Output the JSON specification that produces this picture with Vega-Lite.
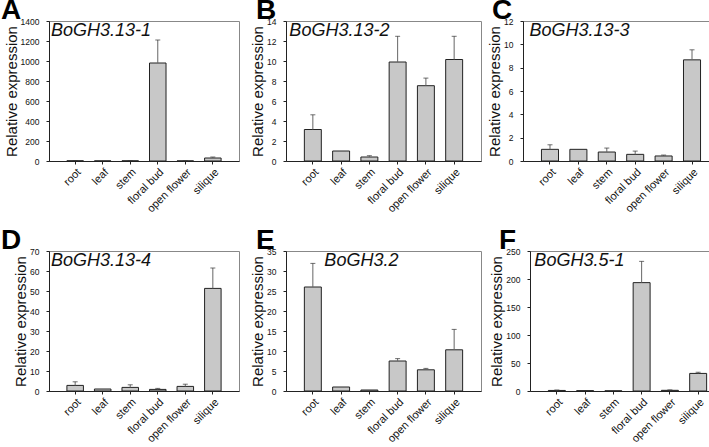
{
  "$schema": "https://vega.github.io/schema/vega-lite/v6.json",
  "padding": {"top": -4, "left": 0, "right": 0, "bottom": 0},
  "background": "white",
  "datasets": {
    "expr": [
      {"panel": "A", "gene": "BoGH3.13-1", "tissue": "root", "value": 2, "upper": 4},
      {"panel": "A", "gene": "BoGH3.13-1", "tissue": "leaf", "value": 1, "upper": null},
      {"panel": "A", "gene": "BoGH3.13-1", "tissue": "stem", "value": 1.5, "upper": 3},
      {"panel": "A", "gene": "BoGH3.13-1", "tissue": "floral bud", "value": 980, "upper": 1210},
      {"panel": "A", "gene": "BoGH3.13-1", "tissue": "open flower", "value": 0.8, "upper": 1.5},
      {"panel": "A", "gene": "BoGH3.13-1", "tissue": "silique", "value": 30, "upper": 40},
      {"panel": "B", "gene": "BoGH3.13-2", "tissue": "root", "value": 3.15, "upper": 4.62},
      {"panel": "B", "gene": "BoGH3.13-2", "tissue": "leaf", "value": 1.0, "upper": null},
      {"panel": "B", "gene": "BoGH3.13-2", "tissue": "stem", "value": 0.4, "upper": 0.53},
      {"panel": "B", "gene": "BoGH3.13-2", "tissue": "floral bud", "value": 9.9, "upper": 12.47},
      {"panel": "B", "gene": "BoGH3.13-2", "tissue": "open flower", "value": 7.53, "upper": 8.29},
      {"panel": "B", "gene": "BoGH3.13-2", "tissue": "silique", "value": 10.15, "upper": 12.47},
      {"panel": "C", "gene": "BoGH3.13-3", "tissue": "root", "value": 1.0, "upper": 1.39},
      {"panel": "C", "gene": "BoGH3.13-3", "tissue": "leaf", "value": 1.0, "upper": null},
      {"panel": "C", "gene": "BoGH3.13-3", "tissue": "stem", "value": 0.77, "upper": 1.11},
      {"panel": "C", "gene": "BoGH3.13-3", "tissue": "floral bud", "value": 0.57, "upper": 0.85},
      {"panel": "C", "gene": "BoGH3.13-3", "tissue": "open flower", "value": 0.43, "upper": 0.51},
      {"panel": "C", "gene": "BoGH3.13-3", "tissue": "silique", "value": 8.67, "upper": 9.53},
      {"panel": "D", "gene": "BoGH3.13-4", "tissue": "root", "value": 2.8, "upper": 4.6},
      {"panel": "D", "gene": "BoGH3.13-4", "tissue": "leaf", "value": 1.0, "upper": null},
      {"panel": "D", "gene": "BoGH3.13-4", "tissue": "stem", "value": 1.8, "upper": 3.1},
      {"panel": "D", "gene": "BoGH3.13-4", "tissue": "floral bud", "value": 0.8, "upper": 1.3},
      {"panel": "D", "gene": "BoGH3.13-4", "tissue": "open flower", "value": 2.3, "upper": 3.4},
      {"panel": "D", "gene": "BoGH3.13-4", "tissue": "silique", "value": 51.3, "upper": 61.5},
      {"panel": "E", "gene": "BoGH3.2", "tissue": "root", "value": 26.0, "upper": 31.9},
      {"panel": "E", "gene": "BoGH3.2", "tissue": "leaf", "value": 1.0, "upper": null},
      {"panel": "E", "gene": "BoGH3.2", "tissue": "stem", "value": 0.25, "upper": null},
      {"panel": "E", "gene": "BoGH3.2", "tissue": "floral bud", "value": 7.5, "upper": 8.1},
      {"panel": "E", "gene": "BoGH3.2", "tissue": "open flower", "value": 5.3, "upper": 5.65},
      {"panel": "E", "gene": "BoGH3.2", "tissue": "silique", "value": 10.3, "upper": 15.4},
      {"panel": "F", "gene": "BoGH3.5-1", "tissue": "root", "value": 1.0, "upper": 1.8},
      {"panel": "F", "gene": "BoGH3.5-1", "tissue": "leaf", "value": 0.6, "upper": null},
      {"panel": "F", "gene": "BoGH3.5-1", "tissue": "stem", "value": 0.3, "upper": null},
      {"panel": "F", "gene": "BoGH3.5-1", "tissue": "floral bud", "value": 193.5, "upper": 231.5},
      {"panel": "F", "gene": "BoGH3.5-1", "tissue": "open flower", "value": 1.2, "upper": 2.0},
      {"panel": "F", "gene": "BoGH3.5-1", "tissue": "silique", "value": 31.4, "upper": 33.5}
    ]
  },
  "vconcat": [
    {
      "hconcat": [
        {
          "width": 190, "height": 140,
          "title": {"text": "A", "dx": -48},
          "data": {"name": "expr"},
          "transform": [{"filter": "datum.panel === 'A'"}],
          "encoding": {
            "x": {"field": "tissue", "type": "nominal", "sort": ["root", "leaf", "stem", "floral bud", "open flower", "silique"], "scale": {"paddingInner": 0.4, "paddingOuter": 0.65}, "title": null, "axis": {"labelAngle": -45, "labelAlign": "right", "labelBaseline": "top"}}
          },
          "layer": [
            {"mark": {"type": "bar"}, "encoding": {"y": {"field": "value", "type": "quantitative", "title": "Relative expression", "scale": {"domain": [0, 1400], "nice": false}, "axis": {"values": [0, 200, 400, 600, 800, 1000, 1200, 1400], "labelOverlap": false, "tickCount": 8}}}},
            {"mark": {"type": "rule", "color": "#666666", "strokeWidth": 1}, "encoding": {"y": {"field": "value", "type": "quantitative", "title": "Relative expression"}, "y2": {"field": "upper"}}},
            {"mark": {"type": "tick", "color": "#333333", "size": 5, "thickness": 1}, "encoding": {"y": {"field": "upper", "type": "quantitative", "title": "Relative expression"}}},
            {"transform": [{"filter": "datum.tissue === 'root'"}], "mark": {"type": "text", "fontSize": 18, "fontStyle": "italic", "align": "left", "baseline": "top", "dx": -16, "dy": 1, "color": "#111"}, "encoding": {"x": {"field": "tissue", "type": "nominal", "bandPosition": 0}, "y": {"datum": 1400}, "text": {"field": "gene"}}}
          ]
        },
        {
          "spacing": 5,
          "hconcat": [
            {
              "width": 195, "height": 140,
              "title": {"text": "B", "dx": -30},
              "data": {"name": "expr"},
              "transform": [{"filter": "datum.panel === 'B'"}],
              "encoding": {
                "x": {"field": "tissue", "type": "nominal", "sort": ["root", "leaf", "stem", "floral bud", "open flower", "silique"], "scale": {"paddingInner": 0.4, "paddingOuter": 0.65}, "title": null, "axis": {"labelAngle": -45, "labelAlign": "right", "labelBaseline": "top"}}
              },
              "layer": [
                {"mark": {"type": "bar"}, "encoding": {"y": {"field": "value", "type": "quantitative", "title": "Relative expression", "scale": {"domain": [0, 14], "nice": false}, "axis": {"values": [0, 2, 4, 6, 8, 10, 12, 14], "labelOverlap": false, "tickCount": 8}}}},
                {"mark": {"type": "rule", "color": "#666666", "strokeWidth": 1}, "encoding": {"y": {"field": "value", "type": "quantitative", "title": "Relative expression"}, "y2": {"field": "upper"}}},
                {"mark": {"type": "tick", "color": "#333333", "size": 5, "thickness": 1}, "encoding": {"y": {"field": "upper", "type": "quantitative", "title": "Relative expression"}}},
                {"transform": [{"filter": "datum.tissue === 'root'"}], "mark": {"type": "text", "fontSize": 18, "fontStyle": "italic", "align": "left", "baseline": "top", "dx": -15, "dy": 1, "color": "#111"}, "encoding": {"x": {"field": "tissue", "type": "nominal", "bandPosition": 0}, "y": {"datum": 14}, "text": {"field": "gene"}}}
              ]
            },
            {
              "width": 196, "height": 140,
              "title": {"text": "C", "dx": -31},
              "data": {"name": "expr"},
              "transform": [{"filter": "datum.panel === 'C'"}],
              "encoding": {
                "x": {"field": "tissue", "type": "nominal", "sort": ["root", "leaf", "stem", "floral bud", "open flower", "silique"], "scale": {"paddingInner": 0.4, "paddingOuter": 0.65}, "title": null, "axis": {"labelAngle": -45, "labelAlign": "right", "labelBaseline": "top"}}
              },
              "layer": [
                {"mark": {"type": "bar"}, "encoding": {"y": {"field": "value", "type": "quantitative", "title": "Relative expression", "scale": {"domain": [0, 12], "nice": false}, "axis": {"values": [0, 2, 4, 6, 8, 10, 12], "labelOverlap": false, "tickCount": 7}}}},
                {"mark": {"type": "rule", "color": "#666666", "strokeWidth": 1}, "encoding": {"y": {"field": "value", "type": "quantitative", "title": "Relative expression"}, "y2": {"field": "upper"}}},
                {"mark": {"type": "tick", "color": "#333333", "size": 5, "thickness": 1}, "encoding": {"y": {"field": "upper", "type": "quantitative", "title": "Relative expression"}}},
                {"transform": [{"filter": "datum.tissue === 'root'"}], "mark": {"type": "text", "fontSize": 18, "fontStyle": "italic", "align": "left", "baseline": "top", "dx": -12, "dy": 1, "color": "#111"}, "encoding": {"x": {"field": "tissue", "type": "nominal", "bandPosition": 0}, "y": {"datum": 12}, "text": {"field": "gene"}}}
              ]
            }
          ]
        }
      ],
      "spacing": 10
    },
    {
      "hconcat": [
        {
          "width": 190, "height": 140,
          "title": {"text": "D", "dx": -48},
          "data": {"name": "expr"},
          "transform": [{"filter": "datum.panel === 'D'"}],
          "encoding": {
            "x": {"field": "tissue", "type": "nominal", "sort": ["root", "leaf", "stem", "floral bud", "open flower", "silique"], "scale": {"paddingInner": 0.4, "paddingOuter": 0.65}, "title": null, "axis": {"labelAngle": -45, "labelAlign": "right", "labelBaseline": "top"}}
          },
          "layer": [
            {"mark": {"type": "bar"}, "encoding": {"y": {"field": "value", "type": "quantitative", "title": "Relative expression", "scale": {"domain": [0, 70], "nice": false}, "axis": {"values": [0, 10, 20, 30, 40, 50, 60, 70], "labelOverlap": false, "tickCount": 8}}}},
            {"mark": {"type": "rule", "color": "#666666", "strokeWidth": 1}, "encoding": {"y": {"field": "value", "type": "quantitative", "title": "Relative expression"}, "y2": {"field": "upper"}}},
            {"mark": {"type": "tick", "color": "#333333", "size": 5, "thickness": 1}, "encoding": {"y": {"field": "upper", "type": "quantitative", "title": "Relative expression"}}},
            {"transform": [{"filter": "datum.tissue === 'root'"}], "mark": {"type": "text", "fontSize": 18, "fontStyle": "italic", "align": "left", "baseline": "top", "dx": -16, "dy": 1, "color": "#111"}, "encoding": {"x": {"field": "tissue", "type": "nominal", "bandPosition": 0}, "y": {"datum": 70}, "text": {"field": "gene"}}}
          ]
        },
        {
          "spacing": 7,
          "hconcat": [
            {
              "width": 195, "height": 140,
              "title": {"text": "E", "dx": -30},
              "data": {"name": "expr"},
              "transform": [{"filter": "datum.panel === 'E'"}],
              "encoding": {
                "x": {"field": "tissue", "type": "nominal", "sort": ["root", "leaf", "stem", "floral bud", "open flower", "silique"], "scale": {"paddingInner": 0.4, "paddingOuter": 0.65}, "title": null, "axis": {"labelAngle": -45, "labelAlign": "right", "labelBaseline": "top"}}
              },
              "layer": [
                {"mark": {"type": "bar"}, "encoding": {"y": {"field": "value", "type": "quantitative", "title": "Relative expression", "scale": {"domain": [0, 35], "nice": false}, "axis": {"values": [0, 5, 10, 15, 20, 25, 30, 35], "labelOverlap": false, "tickCount": 8}}}},
                {"mark": {"type": "rule", "color": "#666666", "strokeWidth": 1}, "encoding": {"y": {"field": "value", "type": "quantitative", "title": "Relative expression"}, "y2": {"field": "upper"}}},
                {"mark": {"type": "tick", "color": "#333333", "size": 5, "thickness": 1}, "encoding": {"y": {"field": "upper", "type": "quantitative", "title": "Relative expression"}}},
                {"transform": [{"filter": "datum.tissue === 'root'"}], "mark": {"type": "text", "fontSize": 18, "fontStyle": "italic", "align": "left", "baseline": "top", "dx": 20, "dy": 1, "color": "#111"}, "encoding": {"x": {"field": "tissue", "type": "nominal", "bandPosition": 0}, "y": {"datum": 35}, "text": {"field": "gene"}}}
              ]
            },
            {
              "width": 195, "height": 140,
              "title": {"text": "F", "dx": -31},
              "data": {"name": "expr"},
              "transform": [{"filter": "datum.panel === 'F'"}],
              "encoding": {
                "x": {"field": "tissue", "type": "nominal", "sort": ["root", "leaf", "stem", "floral bud", "open flower", "silique"], "scale": {"paddingInner": 0.4, "paddingOuter": 0.65}, "title": null, "axis": {"labelAngle": -45, "labelAlign": "right", "labelBaseline": "top"}}
              },
              "layer": [
                {"mark": {"type": "bar"}, "encoding": {"y": {"field": "value", "type": "quantitative", "title": "Relative expression", "scale": {"domain": [0, 250], "nice": false}, "axis": {"values": [0, 50, 100, 150, 200, 250], "labelOverlap": false, "tickCount": 6}}}},
                {"mark": {"type": "rule", "color": "#666666", "strokeWidth": 1}, "encoding": {"y": {"field": "value", "type": "quantitative", "title": "Relative expression"}, "y2": {"field": "upper"}}},
                {"mark": {"type": "tick", "color": "#333333", "size": 5, "thickness": 1}, "encoding": {"y": {"field": "upper", "type": "quantitative", "title": "Relative expression"}}},
                {"transform": [{"filter": "datum.tissue === 'root'"}], "mark": {"type": "text", "fontSize": 18, "fontStyle": "italic", "align": "left", "baseline": "top", "dx": -14, "dy": 1, "color": "#111"}, "encoding": {"x": {"field": "tissue", "type": "nominal", "bandPosition": 0}, "y": {"datum": 250}, "text": {"field": "gene"}}}
              ]
            }
          ]
        }
      ],
      "spacing": 10
    }
  ],
  "spacing": 11,
  "config": {
    "font": "Liberation Sans",
    "view": {"stroke": "#888888", "strokeWidth": 1},
    "axis": {"domainColor": "#222222", "tickColor": "#222222", "labelColor": "#111111", "titleColor": "#111111", "grid": false, "labelFont": "Liberation Sans", "titleFont": "Liberation Sans", "labelOverlap": false},
    "axisY": {"labelFontSize": 8.5, "tickSize": 3, "labelPadding": 7, "titleFontSize": 15, "titleFontWeight": "normal", "titlePadding": 1, "format": "d", "labelFlush": false},
    "axisX": {"labelFontSize": 11, "tickSize": 3, "labelPadding": 2},
    "title": {"fontSize": 28, "fontWeight": "bold", "anchor": "start", "frame": "group", "offset": -8, "color": "#000000", "font": "Liberation Sans"},
    "bar": {"fill": "#c8c8c8", "stroke": "#222222", "strokeWidth": 1}
  }
}
